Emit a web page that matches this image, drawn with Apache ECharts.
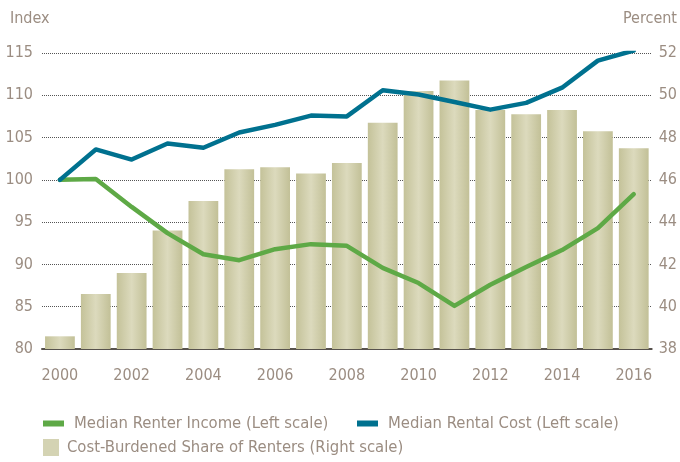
<!DOCTYPE html>
<html>
<head>
<meta charset="utf-8">
<script src="https://cdn.jsdelivr.net/npm/echarts@6/dist/echarts.min.js"></script>
<style>
  html, body { margin: 0; padding: 0; background: #ffffff; }
  #chart { width: 680px; height: 462px; }
</style>
</head>
<body>
<div id="chart"></div>
<script>
// years on the x axis
const years = ['2000', '2001', '2002', '2003', '2004', '2005', '2006', '2007', '2008',
  '2009', '2010', '2011', '2012', '2013', '2014', '2015', '2016'];

// index values (left scale, 2000 = 100)
const renterIncome = [100, 100.1, 96.8, 93.7, 91.2, 90.5, 91.8, 92.4, 92.2,
  89.6, 87.8, 85.1, 87.6, 89.7, 91.7, 94.3, 98.3];
const rentalCost = [100, 103.6, 102.4, 104.3, 103.8, 105.6, 106.5, 107.6, 107.5,
  110.6, 110.1, 109.2, 108.3, 109.1, 110.9, 114.1, 115.3];

// percent of renters cost burdened (right scale)
const burdenedShare = [38.6, 40.6, 41.6, 43.6, 45.0, 46.5, 46.6, 46.3, 46.8,
  48.7, 50.2, 50.7, 49.3, 49.1, 49.3, 48.3, 47.5];

const textColor = '#9b8d82';
const font = '"Liberation Sans Narrow", "DejaVu Sans Condensed", "Roboto", sans-serif';
const green = '#5ea946';
const blue = '#00718f';

const barColor = new echarts.graphic.LinearGradient(0, 0, 1, 0, [
  { offset: 0, color: '#c4c299' },
  { offset: 0.5, color: '#dcdabd' },
  { offset: 1, color: '#c2c097' }
]);

const chart = echarts.init(document.getElementById('chart'), null, { renderer: 'canvas' });

const legendText = { color: textColor, fontSize: 16.5, fontFamily: font, padding: [0, 0, 0, 5] };

const option = {
  animation: false,
  textStyle: { fontFamily: font },
  grid: { left: 42, right: 26, top: 53, bottom: 113 },
  graphic: [
    { type: 'text', left: 10, top: 11, style: { text: 'Index', fill: textColor, font: '16px ' + font } },
    { type: 'text', right: 3, top: 11, style: { text: 'Percent', fill: textColor, font: '16px ' + font } }
  ],
  legend: [
    {
      left: 43, top: 415, padding: 0, itemWidth: 21, itemHeight: 6,
      icon: 'rect',
      data: ['Median Renter Income (Left scale)'],
      textStyle: legendText
    },
    {
      left: 357, top: 415, padding: 0, itemWidth: 21, itemHeight: 6,
      icon: 'rect',
      data: ['Median Rental Cost (Left scale)'],
      textStyle: legendText
    },
    {
      left: 43, top: 439, padding: 0, itemWidth: 16, itemHeight: 17,
      icon: 'rect',
      data: [{ name: 'Cost-Burdened Share of Renters (Right scale)', itemStyle: { color: '#d4d3b3' } }],
      textStyle: { color: textColor, fontSize: 16.5, fontFamily: font, padding: [0, 0, 0, 3] }
    }
  ],
  xAxis: {
    type: 'category',
    data: years,
    axisLine: { lineStyle: { color: '#57524d', width: 2 } },
    axisTick: { show: false },
    axisLabel: { interval: 1, color: textColor, fontSize: 16, margin: 19, fontFamily: font }
  },
  yAxis: [
    {
      type: 'value', min: 80, max: 115, interval: 5,
      axisLine: { show: false }, axisTick: { show: false },
      axisLabel: { color: textColor, fontSize: 16, margin: 9, fontFamily: font },
      splitLine: { lineStyle: { color: '#555', type: [1, 1], width: 1 } }
    },
    {
      type: 'value', min: 38, max: 52, interval: 2,
      axisLine: { show: false }, axisTick: { show: false },
      axisLabel: { color: textColor, fontSize: 16, margin: 7, fontFamily: font },
      splitLine: { show: false }
    }
  ],
  series: [
    {
      name: 'Cost-Burdened Share of Renters (Right scale)',
      type: 'bar',
      yAxisIndex: 1,
      data: burdenedShare,
      barCategoryGap: '17%',
      itemStyle: { color: barColor },
      z: 1
    },
    {
      name: 'Median Renter Income (Left scale)',
      type: 'line',
      data: renterIncome,
      symbol: 'none',
      lineStyle: { color: green, width: 4.5, cap: 'round', join: 'round' },
      itemStyle: { color: green },
      z: 3
    },
    {
      name: 'Median Rental Cost (Left scale)',
      type: 'line',
      data: rentalCost,
      symbol: 'none',
      lineStyle: { color: blue, width: 4.5, cap: 'round', join: 'round' },
      itemStyle: { color: blue },
      z: 4
    }
  ]
};

chart.setOption(option);
</script>
</body>
</html>
